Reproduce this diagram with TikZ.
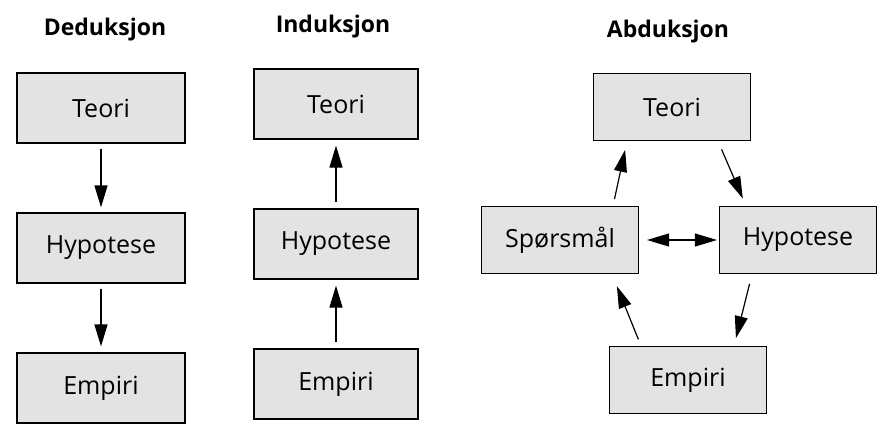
\documentclass[tikz,border=0pt]{standalone}
\usepackage{fontspec}
\setmainfont{Open Sans}
\usetikzlibrary{arrows.meta, positioning}

\begin{document}
\begin{tikzpicture}[
    x=1pt, y=-1pt,
    node distance=140pt,
    >={Triangle[length=22pt,width=13pt]},
    box/.style={rectangle, draw, line width=1.2pt, fill=black!11, minimum width=168pt, minimum height=70pt, font=\fontsize{25}{30}\selectfont},
    abox/.style={box, minimum width=157pt, minimum height=67pt},
    title/.style={font=\bfseries\fontsize{23}{28}\selectfont},
    arrow/.style={->, line width=1.2pt}
]
\useasboundingbox (0,0) rectangle (886,423);

% Deduksjon
\node (D0) [title] at (105,30) {Deduksjon};
\node (DT) [box] at (101,108) {Teori};
\node (DH) [box, below of=DT] {Hypotese};
\node (DE) [box, below of=DH] {Empiri};

\draw [arrow, shorten <=5pt, shorten >=5pt] (DT) -- (DH);
\draw [arrow, shorten <=5pt, shorten >=6pt] (DH) -- (DE);

% Induksjon
\node (I0) [title] at (333,27) {Induksjon};
\node (IT) [box, minimum width=164pt] at (336,104) {Teori};
\node (IH) [box, minimum width=164pt, below of=IT] {Hypotese};
\node (IE) [box, minimum width=164pt, below of=IH] {Empiri};

\draw [arrow, shorten <=6pt, shorten >=6pt] (IH) -- (IT);
\draw [arrow, shorten <=6pt, shorten >=6pt] (IE) -- (IH);

% Abduksjon
\node (A0) [title] at (668,32) {Abduksjon};
\node (AT) [abox] at (672,107) {Teori};
\node (AS) [abox] at (560,240) {Spørsmål};
\node (AH) [abox] at (798,240) {Hypotese};
\node (AE) [abox] at (688,380) {Empiri};

\draw [arrow, shorten <=7pt, shorten >=9pt] ([xshift=53pt]AS.north) -- ([xshift=-45pt]AT.south);
\draw [arrow, shorten <=9pt, shorten >=8pt] ([xshift=46pt]AT.south) -- ([xshift=-52pt]AH.north);
\draw [arrow, shorten <=10pt, shorten >=8pt] ([xshift=-46pt]AH.south) -- ([xshift=46pt]AE.north);
\draw [arrow, shorten <=7pt, shorten >=13pt] ([xshift=-47pt]AE.north) -- ([xshift=52pt]AS.south);
\draw [arrow, <->, shorten <=8pt, shorten >=2pt] (AS) -- (AH);

\end{tikzpicture}
\end{document}
